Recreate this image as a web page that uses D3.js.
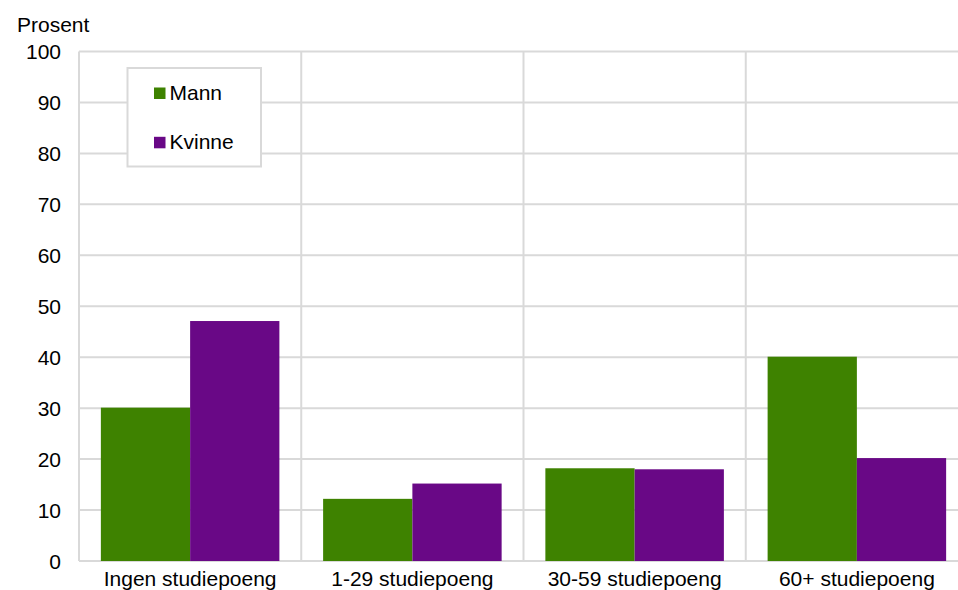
<!DOCTYPE html>
<html><head><meta charset="utf-8">
<script src="https://cdn.jsdelivr.net/npm/d3@7"></script>
<style>body{margin:0;background:#fff}svg{display:block;font-family:"Liberation Sans",Arial,sans-serif}</style>
</head><body>
<svg id="c" width="958" height="590"></svg>
<script>
const categories = ["Ingen studiepoeng","1-29 studiepoeng","30-59 studiepoeng","60+ studiepoeng"];
const seriesNames = ["Mann","Kvinne"];
const mann = [30.1, 12.2, 18.2, 40.1];
const kvinne = [47.1, 15.2, 18.0, 20.2];
const yTicks = [0,10,20,30,40,50,60,70,80,90,100];
const colors = ["#3e8200","#690886"];
const yTitle = "Prosent";

(function(){
const svg = d3.select("#c");
const pl = 79, pr = 968, pt = 51.5, pb = 561;
const x = d3.scaleBand().domain(categories).range([pl, pr]).paddingInner(0).paddingOuter(0);
const x1 = d3.scaleBand().domain(seriesNames).range([0, x.bandwidth()]).paddingOuter(0.245).paddingInner(0);
const y = d3.scaleLinear().domain([0,100]).range([pb, pt]);
const grid = "#d9d9d9";

svg.append("g").selectAll("line").data(yTicks).join("line")
  .attr("x1", pl).attr("x2", pr)
  .attr("y1", d => y(d)).attr("y2", d => y(d))
  .attr("stroke", grid).attr("stroke-width", 2);
svg.append("g").selectAll("line").data(categories).join("line")
  .attr("x1", d => x(d)).attr("x2", d => x(d))
  .attr("y1", pt).attr("y2", pb)
  .attr("stroke", grid).attr("stroke-width", 2);

svg.append("g").selectAll("text").data(yTicks).join("text")
  .attr("x", 61).attr("y", d => y(d)).attr("dy", "0.36em")
  .attr("text-anchor", "end").attr("font-size", 21).attr("fill", "#000")
  .text(d => d);
svg.append("text").attr("x", 17).attr("y", 32).attr("font-size", 21).text(yTitle);

const data = categories.map((c,i) => ({c, vals: [mann[i], kvinne[i]]}));
const g = svg.append("g").selectAll("g").data(data).join("g")
  .attr("transform", d => `translate(${x(d.c)},0)`);
g.selectAll("rect").data(d => d.vals.map((v,j) => ({s: seriesNames[j], v, j}))).join("rect")
  .attr("x", d => x1(d.s)).attr("width", x1.bandwidth())
  .attr("y", d => y(d.v)).attr("height", d => y(0) - y(d.v))
  .attr("fill", d => colors[d.j]);

svg.append("g").selectAll("text").data(categories).join("text")
  .attr("x", d => x(d) + x.bandwidth()/2).attr("y", 586)
  .attr("text-anchor", "middle").attr("font-size", 21).text(d => d);

const lg = svg.append("g");
lg.append("rect").attr("x", 127.5).attr("y", 68).attr("width", 133.5).attr("height", 98.5)
  .attr("fill", "#fff").attr("stroke", grid).attr("stroke-width", 2);
seriesNames.forEach((s,i) => {
  const yy = 87.5 + i*49.3;
  lg.append("rect").attr("x", 154).attr("y", yy).attr("width", 11.5).attr("height", 11.5).attr("fill", colors[i]);
  lg.append("text").attr("x", 169.5).attr("y", yy + 12.5).attr("font-size", 21).text(s);
});
})();
</script>
</body></html>
